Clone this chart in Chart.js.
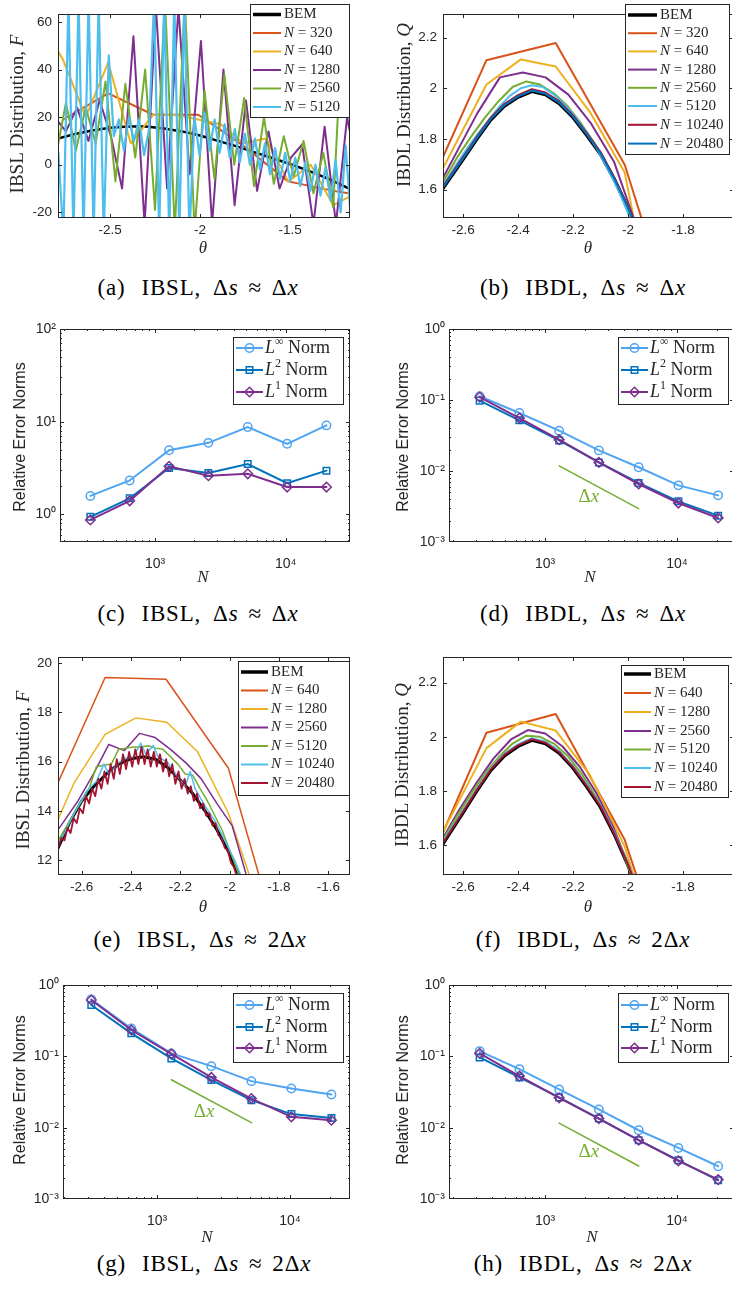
<!DOCTYPE html>
<html>
<head>
<meta charset="utf-8">
<script src="https://cdn.jsdelivr.net/npm/chart.js@4.4.0/dist/chart.umd.min.js"></script>
<style>
  body { margin: 0; background: #fff; overflow: hidden; }
  #fig { position: relative; width: 732px; height: 1291px; overflow: hidden; background: #fff; }
  #fig canvas { position: absolute; }
  .cap { position: absolute; transform: translate(-50%, -50%); white-space: nowrap; letter-spacing: 0.8px;
         font-family: "Liberation Serif", "DejaVu Serif", "Times New Roman", serif; font-size: 23px; color: #000; }
  .cap .g1 { display: inline-block; width: 16px; }
  .cap .g2 { display: inline-block; width: 12px; }
  .cap .g3 { display: inline-block; width: 10px; }
</style>
</head>
<body>
<div id="fig">
  <div class="cap" style="left:198px;top:288px">(a)<span class="g1"></span>IBSL,<span class="g2"></span>Δ<i>s</i><span class="g3"></span>≈<span class="g3"></span>Δ<i>x</i></div>
  <div class="cap" style="left:583px;top:288px">(b)<span class="g1"></span>IBDL,<span class="g2"></span>Δ<i>s</i><span class="g3"></span>≈<span class="g3"></span>Δ<i>x</i></div>
  <div class="cap" style="left:198px;top:614px">(c)<span class="g1"></span>IBSL,<span class="g2"></span>Δ<i>s</i><span class="g3"></span>≈<span class="g3"></span>Δ<i>x</i></div>
  <div class="cap" style="left:583px;top:614px">(d)<span class="g1"></span>IBDL,<span class="g2"></span>Δ<i>s</i><span class="g3"></span>≈<span class="g3"></span>Δ<i>x</i></div>
  <div class="cap" style="left:200px;top:940px">(e)<span class="g1"></span>IBSL,<span class="g2"></span>Δ<i>s</i><span class="g3"></span>≈<span class="g3"></span>2Δ<i>x</i></div>
  <div class="cap" style="left:583px;top:940px">(f)<span class="g1"></span>IBDL,<span class="g2"></span>Δ<i>s</i><span class="g3"></span>≈<span class="g3"></span>2Δ<i>x</i></div>
  <div class="cap" style="left:204px;top:1264px">(g)<span class="g1"></span>IBSL,<span class="g2"></span>Δ<i>s</i><span class="g3"></span>≈<span class="g3"></span>2Δ<i>x</i></div>
  <div class="cap" style="left:583px;top:1264px">(h)<span class="g1"></span>IBDL,<span class="g2"></span>Δ<i>s</i><span class="g3"></span>≈<span class="g3"></span>2Δ<i>x</i></div>
</div>
<script>
// ---- datos ----

// (a) IBSL, ds ~ dx
const aNs = [320, 640, 1280, 2560, 5120];
const aBemTheta = [-2.79, -2.7, -2.6, -2.5, -2.4, -2.3, -2.2, -2.1, -2.0, -1.9, -1.8, -1.7, -1.6, -1.5, -1.4, -1.3, -1.2, -1.16];
const aBemF = [11, 12.8, 14.4, 15.5, 16.1, 16.1, 15.25, 14.0, 12.25, 10.0, 7.8, 5.3, 2.8, 0.3, -2.5, -5.5, -9.0, -10.5];
const a320Theta = [-2.76, -2.51, -2.26, -2.01, -1.76, -1.51, -1.26, -1.01];
const a320F = [19, 30, 21, 21, 8, -7, -11, -14];
const a640Theta = [-2.885, -2.76, -2.635, -2.51, -2.385, -2.26, -2.135, -2.01, -1.885, -1.76, -1.635, -1.51, -1.385, -1.26, -1.135];
const a640F = [60, 44, 20, 43, 9, 21, 21, 19, 17, 9, 11, -7, 0, -17, -12];
const a1280Theta = [-2.808, -2.745, -2.683, -2.62, -2.558, -2.495, -2.433, -2.37, -2.308, -2.245, -2.183, -2.12, -2.058, -1.995, -1.933, -1.87, -1.808, -1.745, -1.683, -1.62, -1.558, -1.495, -1.433, -1.37, -1.308, -1.245, -1.183, -1.12];
const a1280F = [20, 14, 24, 10, 27, 12, -10, 54, -25, 66, -10, 66, -4, 52, -25, 40, -17, 27, -11, 14, -10, 3, 8.5, -25, 16, -25, 20, -5];
const a2560Theta = [-2.80, -2.745, -2.69, -2.635, -2.58, -2.525, -2.47, -2.415, -2.36, -2.305, -2.25, -2.195, -2.14, -2.085, -2.03, -1.975, -1.92, -1.865, -1.81, -1.755, -1.70, -1.645, -1.59, -1.535, -1.48, -1.425, -1.37, -1.315, -1.26, -1.205, -1.15];
const a2560F = [4, 26, 6, 24, 9, 35, -7, 34, 3, 40, -19, 70, -28, 70, -28, 31, -6, 38, 0, 28, -9, 20, -8, 12, -5, 10, -12, 5, -18, 66, 10];
const a5120Theta = [-2.787, -2.759, -2.731, -2.703, -2.675, -2.647, -2.619, -2.591, -2.563, -2.535, -2.507, -2.479, -2.451, -2.423, -2.395, -2.367, -2.339, -2.311, -2.283, -2.255, -2.227, -2.199, -2.171, -2.143, -2.115, -2.087, -2.059, -2.031, -2.003, -1.975, -1.947, -1.919, -1.891, -1.863, -1.835, -1.807, -1.779, -1.751, -1.723, -1.695, -1.667, -1.639, -1.611, -1.583, -1.555, -1.527, -1.499, -1.471, -1.443, -1.415, -1.387, -1.359, -1.331, -1.303, -1.275, -1.247, -1.219, -1.191, -1.163];
const a5120F = [5, -30, 70, -30, 70, -30, 70, -30, 70, -30, 46, 12, 19, 6, 20, 10, 19, 4, 15, 70, -30, 70, -30, 70, -30, 70, -30, 20, 4, 22, 6, 19, 5, 17, 3, 15, 1, 13, 0, 11, -2, 9, -4, 7, -6, 5, -7, 3, -9, 1, -11, 0, -13, -1, -15, 2, -20, 8, -22];

// (b) IBDL, ds ~ dx
const bNs = [320, 640, 1280, 2560, 5120, 10240, 20480];
const bemQTheta = [-2.7, -2.67, -2.6, -2.55, -2.5, -2.45, -2.4, -2.35, -2.3, -2.25, -2.2, -2.15, -2.1, -2.05, -2.0, -1.95];
const bemQ = [1.56, 1.61, 1.72, 1.80, 1.875, 1.93, 1.965, 1.988, 1.975, 1.94, 1.885, 1.815, 1.74, 1.64, 1.525, 1.39];
const b320Theta = [-2.765, -2.515, -2.263, -2.012, -1.761];
const b320Q = [1.506, 2.111, 2.179, 1.698, 0.83];
const b640Theta = [-2.765, -2.64, -2.515, -2.39, -2.263, -2.139, -2.012, -1.888];
const b640Q = [1.49, 1.753, 2.015, 2.114, 2.086, 1.907, 1.667, 0.985];
const b1280Theta = [-2.715, -2.632, -2.549, -2.466, -2.383, -2.30, -2.217, -2.134, -2.051, -1.968, -1.885];
const b1280Q = [1.56, 1.73, 1.90, 2.043, 2.062, 2.043, 1.975, 1.86, 1.71, 1.45, 1.2];
const b2560Theta = [-2.72, -2.67, -2.62, -2.57, -2.52, -2.47, -2.42, -2.37, -2.32, -2.27, -2.22, -2.17, -2.12, -2.07, -2.02, -1.97];
const b2560Q = [1.54, 1.635, 1.73, 1.81, 1.885, 1.95, 2.005, 2.027, 2.015, 1.98, 1.93, 1.86, 1.78, 1.68, 1.565, 1.43];
const b5120Theta = [-2.71, -2.67, -2.63, -2.59, -2.55, -2.51, -2.47, -2.43, -2.39, -2.35, -2.31, -2.27, -2.23, -2.19, -2.15, -2.11, -2.07, -2.03, -1.99, -1.95];
const b5120Q = [1.55, 1.62, 1.69, 1.755, 1.815, 1.87, 1.925, 1.97, 2.0, 2.012, 2.005, 1.975, 1.935, 1.885, 1.825, 1.755, 1.675, 1.585, 1.48, 1.37];
const b10240Q = [1.57, 1.618, 1.728, 1.808, 1.883, 1.938, 1.973, 1.996, 1.983, 1.948, 1.893, 1.823, 1.748, 1.648, 1.533, 1.40];
const b20480Q = [1.563, 1.613, 1.723, 1.803, 1.878, 1.933, 1.968, 1.991, 1.978, 1.943, 1.888, 1.818, 1.743, 1.643, 1.528, 1.393];

// (e) IBSL, ds ~ 2dx
const eNs = [640, 1280, 2560, 5120, 10240, 20480];
const eBemTheta = [-2.72, -2.695, -2.65, -2.6, -2.55, -2.5, -2.45, -2.4, -2.35, -2.3, -2.25, -2.2, -2.15, -2.1, -2.05, -2.0, -1.95, -1.9];
const eBemF = [12.1, 12.5, 13.5, 14.4, 15.0, 15.5, 15.9, 16.12, 16.2, 16.1, 15.75, 15.25, 14.7, 14.0, 13.2, 12.25, 11.1, 9.9];
const e640Theta = [-2.755, -2.505, -2.258, -2.005, -1.755];
const e640F = [13.83, 19.42, 19.35, 15.73, 6.96];
const e1280Theta = [-2.755, -2.63, -2.505, -2.38, -2.255, -2.13, -2.005, -1.88];
const e1280F = [12.3, 15.15, 17.11, 17.78, 17.6, 16.4, 13.9, 10.2];
const e2560Theta = [-2.74, -2.677, -2.615, -2.552, -2.49, -2.427, -2.365, -2.302, -2.24, -2.177, -2.115, -2.052, -1.99, -1.927, -1.865];
const e2560F = [12.6, 13.5, 14.4, 15.5, 16.7, 16.45, 17.15, 16.98, 16.5, 15.95, 15.3, 14.3, 13.4, 11.2, 8.8];
const e5120Theta = [-2.72, -2.695, -2.66, -2.63, -2.6, -2.57, -2.54, -2.51, -2.48, -2.45, -2.42, -2.39, -2.36, -2.33, -2.30, -2.27, -2.24, -2.21, -2.18, -2.15, -2.12, -2.09, -2.06, -2.03, -2.0, -1.97, -1.94, -1.91];
const e5120F = [12.3, 12.8, 13.4, 13.9, 14.4, 14.9, 15.8, 15.85, 15.9, 16.5, 16.55, 16.6, 16.6, 16.65, 16.55, 16.5, 16.2, 15.9, 15.5, 15.45, 14.9, 14.4, 13.8, 13.2, 12.4, 11.6, 10.7, 9.8];
const e10240Theta = [-2.72, -2.695, -2.66, -2.62, -2.58, -2.54, -2.51, -2.49, -2.45, -2.42, -2.39, -2.36, -2.34, -2.31, -2.29, -2.25, -2.22, -2.18, -2.16, -2.14, -2.1, -2.06, -2.02, -1.98, -1.94, -1.9];
const e10240F = [12.2, 12.6, 13.3, 14.1, 14.8, 15.2, 15.9, 15.5, 15.95, 16.15, 16.2, 16.75, 16.3, 16.65, 16.2, 15.95, 15.5, 15.0, 15.6, 14.9, 14.2, 13.6, 12.8, 12.0, 11.0, 9.9];
const e20480Theta = [-2.7075, -2.695, -2.6825, -2.67, -2.6575, -2.645, -2.6325, -2.62, -2.6075, -2.595, -2.5825, -2.57, -2.5575, -2.545, -2.5325, -2.52, -2.5075, -2.495, -2.4825, -2.47, -2.4575, -2.445, -2.4325, -2.42, -2.4075, -2.395, -2.3825, -2.37, -2.3575, -2.345, -2.3325, -2.32, -2.3075, -2.295, -2.2825, -2.27, -2.2575, -2.245, -2.2325, -2.22, -2.2075, -2.195, -2.1825, -2.17, -2.1575, -2.145, -2.1325, -2.12, -2.1075, -2.095, -2.0825, -2.07, -2.0575, -2.045, -2.0325, -2.02, -2.0075, -1.995, -1.9825, -1.97, -1.9575, -1.945];
const e20480F = [12.2, 12.5, 12.9, 12.8, 13.3, 13.1, 13.7, 13.5, 14.1, 13.9, 14.6, 14.3, 14.9, 14.6, 15.3, 14.9, 15.6, 15.1, 15.9, 15.3, 16.1, 15.5, 16.3, 15.7, 16.4, 15.8, 16.5, 15.9, 16.6, 15.9, 16.5, 15.8, 16.4, 15.8, 16.3, 15.6, 16.1, 15.4, 15.9, 15.1, 15.6, 14.9, 15.3, 14.7, 15.0, 14.4, 14.7, 14.1, 14.3, 13.8, 13.9, 13.4, 13.5, 13.0, 12.9, 12.5, 12.4, 11.9, 11.7, 11.3, 11.0, 10.6];

// (f) IBDL, ds ~ 2dx
const f640Theta = [-2.765, -2.515, -2.263, -2.012, -1.761];
const f640Q = [1.432, 2.015, 2.084, 1.619, 0.847];
const f1280Theta = [-2.765, -2.64, -2.515, -2.39, -2.263, -2.139, -2.012, -1.888];
const f1280Q = [1.468, 1.713, 1.958, 2.056, 2.023, 1.859, 1.594, 1.193];
const f2560Theta = [-2.739, -2.676, -2.614, -2.551, -2.489, -2.426, -2.364, -2.301, -2.239, -2.176, -2.114, -2.051, -1.989, -1.926];
const f2560Q = [1.50, 1.62, 1.73, 1.83, 1.92, 1.99, 2.025, 2.012, 1.965, 1.89, 1.79, 1.66, 1.50, 1.31];
const f5120Theta = [-2.72, -2.67, -2.62, -2.57, -2.52, -2.47, -2.42, -2.37, -2.32, -2.27, -2.22, -2.17, -2.12, -2.07, -2.02, -1.97];
const f5120Q = [1.53, 1.625, 1.71, 1.79, 1.865, 1.925, 1.975, 2.004, 2.0, 1.975, 1.93, 1.865, 1.785, 1.69, 1.575, 1.44];
const f10240Q = [1.567, 1.617, 1.727, 1.807, 1.882, 1.937, 1.972, 1.995, 1.982, 1.947, 1.892, 1.822, 1.747, 1.647, 1.532, 1.397];
const f20480Q = [1.563, 1.613, 1.723, 1.803, 1.878, 1.933, 1.968, 1.991, 1.978, 1.943, 1.888, 1.818, 1.743, 1.643, 1.528, 1.393];

// normas de error (c, d, g, h)
const normN = [320, 640, 1280, 2560, 5120, 10240, 20480];
const cLinf = [1.58, 2.32, 4.92, 5.91, 8.75, 5.77, 9.12];
const cL2 = [0.94, 1.49, 3.16, 2.79, 3.49, 2.17, 2.96];
const cL1 = [0.87, 1.40, 3.30, 2.61, 2.74, 1.97, 1.97];
const dLinf = [0.113, 0.0656, 0.037, 0.0195, 0.0113, 0.00628, 0.00454];
const dL2 = [0.098, 0.0517, 0.027, 0.0132, 0.00678, 0.00374, 0.00235];
const dL1 = [0.110, 0.0557, 0.0276, 0.0132, 0.00656, 0.00354, 0.00218];
const gLinf = [0.629, 0.246, 0.110, 0.0729, 0.0449, 0.0354, 0.0292];
const gL2 = [0.524, 0.210, 0.0935, 0.0464, 0.0243, 0.0155, 0.0137];
const gL1 = [0.616, 0.234, 0.108, 0.0506, 0.0256, 0.0142, 0.0127];
const hLinf = [0.1184, 0.0662, 0.0343, 0.018, 0.0092, 0.0052, 0.00288];
const hL2 = [0.0965, 0.0506, 0.0265, 0.0134, 0.00667, 0.00349, 0.00183];
const hL1 = [0.11, 0.0528, 0.0262, 0.0134, 0.0067, 0.00342, 0.00187];
const slopeN = [1280, 5120];
const dSlope = [0.0118, 0.00295];
const gSlope = [0.047, 0.01175];
const hSlope = [0.0116, 0.0029];

// ---- estilo ----
const INK = '#262626';
const SERIF = '"Liberation Serif", "DejaVu Serif", "Times New Roman", serif';
const SANS = '"Liberation Sans", Arial, Helvetica, sans-serif';
const ORANGE = '#D95319', YELLOW = '#EDB120', PURPLE = '#7E2F8E', GREEN = '#77AC30',
      CYAN = '#4DBEEE', DARKRED = '#A2142F', BLUE = '#0072BD', LINF = '#4FA4F2';
const SUP = { '-': '⁻', '0': '⁰', '1': '¹', '2': '²', '3': '³', '4': '⁴' };

const rm = (t, s) => ({ t, f: `${s}px ${SERIF}` });
const it = (t, s) => ({ t, f: `italic ${s}px ${SERIF}` });
const sf = (t, s) => ({ t, f: `${s}px ${SANS}` });
const up = (t, s) => ({ t, f: `${Math.round(s * 0.68)}px ${SERIF}`, dy: -s * 0.36 });
const nLabel = (n, s) => [it('N', s), rm(' = ' + n, s)];

function drawRich(ctx, segs, x, y, align, color) {
    let w = 0;
    segs.forEach(s => { ctx.font = s.f; w += ctx.measureText(s.t).width; });
    let cx = align === 'center' ? x - w / 2 : x;
    ctx.fillStyle = color || INK;
    ctx.textAlign = 'left';
    ctx.textBaseline = 'middle';
    segs.forEach(s => {
        ctx.font = s.f;
        ctx.fillText(s.t, cx, y + (s.dy || 0));
        cx += ctx.measureText(s.t).width;
    });
}

function drawMarker(ctx, style, x, y, r) {
    ctx.beginPath();
    if (style === 'circle') {
        ctx.arc(x, y, r, 0, Math.PI * 2);
    } else if (style === 'rect') {
        const h = r * Math.SQRT1_2;
        ctx.rect(x - h, y - h, 2 * h, 2 * h);
    } else {
        ctx.moveTo(x - r, y); ctx.lineTo(x, y - r); ctx.lineTo(x + r, y); ctx.lineTo(x, y + r); ctx.closePath();
    }
    ctx.stroke();
}

// marcas hacia adentro, como en MATLAB (con menores en ejes log)
function tickList(scale) {
    const out = scale.ticks.map(t => [t.value, 4]);
    if (scale.type === 'logarithmic') {
        for (let e = Math.floor(Math.log10(scale.min)); e <= Math.ceil(Math.log10(scale.max)); e++) {
            for (let k = 2; k <= 9; k++) {
                const v = k * Math.pow(10, e);
                if (v > scale.min && v < scale.max) out.push([v, 2]);
            }
        }
    }
    return out;
}

function framePlugin(p, L, T) {
    return {
        id: 'frame',
        afterDraw(chart) {
            const { ctx, chartArea: a } = chart;
            const xs = chart.scales.x, ys = chart.scales.y;
            ctx.save();
            ctx.strokeStyle = INK;
            ctx.lineWidth = 1;
            ctx.beginPath();
            tickList(xs).forEach(([v, len]) => {
                const px = Math.round(xs.getPixelForValue(v)) + 0.5;
                if (px < a.left || px > a.right) return;
                ctx.moveTo(px, a.bottom); ctx.lineTo(px, a.bottom - len);
                ctx.moveTo(px, a.top); ctx.lineTo(px, a.top + len);
            });
            tickList(ys).forEach(([v, len]) => {
                const py = Math.round(ys.getPixelForValue(v)) + 0.5;
                if (py < a.top || py > a.bottom) return;
                ctx.moveTo(a.left, py); ctx.lineTo(a.left + len, py);
                ctx.moveTo(a.right, py); ctx.lineTo(a.right - len, py);
            });
            ctx.stroke();
            ctx.strokeRect(Math.round(a.left) + 0.5, Math.round(a.top) + 0.5,
                           Math.round(a.right - a.left) - 1, Math.round(a.bottom - a.top) - 1);

            // anotación de pendiente
            (p.notes || []).forEach(n => {
                drawRich(ctx, n.segs, xs.getPixelForValue(n.x), ys.getPixelForValue(n.y), 'center', n.color);
            });

            // desde aquí coordenadas de página
            ctx.translate(-L, -T);
            if (p.yTitle) {
                ctx.save();
                ctx.translate(p.yTitle.x, p.yTitle.y);
                ctx.rotate(-Math.PI / 2);
                drawRich(ctx, p.yTitle.segs, 0, 0, 'center');
                ctx.restore();
            }
            if (p.xTitle) drawRich(ctx, p.xTitle.segs, p.xTitle.x, p.xTitle.y, 'center');

            const g = p.legend;
            if (g) {
                ctx.fillStyle = '#fff';
                ctx.fillRect(g.box[0], g.box[1], g.box[2] - g.box[0], g.box[3] - g.box[1]);
                ctx.strokeStyle = INK;
                ctx.lineWidth = 1;
                ctx.strokeRect(g.box[0] + 0.5, g.box[1] + 0.5, g.box[2] - g.box[0], g.box[3] - g.box[1]);
                g.items.forEach((item, i) => {
                    const y = g.rows[i];
                    ctx.strokeStyle = item.color;
                    ctx.lineWidth = item.width;
                    ctx.beginPath(); ctx.moveTo(g.lx[0], y); ctx.lineTo(g.lx[1], y); ctx.stroke();
                    if (item.marker) {
                        ctx.lineWidth = 1.5;
                        drawMarker(ctx, item.marker, (g.lx[0] + g.lx[1]) / 2, y, item.radius);
                    }
                    drawRich(ctx, item.segs, g.tx, y, 'left');
                });
            }
            ctx.restore();
        }
    };
}

function linAxis(min, max, step, pad) {
    return {
        type: 'linear', min, max,
        grid: { display: false, drawTicks: false },
        border: { display: false },
        ticks: {
            stepSize: step, includeBounds: false, autoSkip: false, maxRotation: 0,
            color: INK, font: { family: SANS, size: 13.5 }, padding: pad,
            callback: v => String(+v.toFixed(2))
        }
    };
}

function logAxis(min, max, pad) {
    return {
        type: 'logarithmic', min, max,
        grid: { display: false, drawTicks: false },
        border: { display: false },
        afterBuildTicks: s => {
            s.ticks = s.ticks.filter(t => Math.abs(Math.log10(t.value) - Math.round(Math.log10(t.value))) < 1e-9);
        },
        ticks: {
            autoSkip: false, maxRotation: 0,
            color: INK, font: { family: SANS, size: 14 }, padding: pad,
            callback: v => '10' + String(Math.round(Math.log10(v))).split('').map(c => SUP[c]).join('')
        }
    };
}

function series(xs, ys, color, width, extra) {
    return Object.assign({
        data: xs.map((x, i) => ({ x, y: ys[i] })),
        borderColor: color, borderWidth: width, pointRadius: 0, fill: false, tension: 0,
        borderJoinStyle: 'round', borderCapStyle: 'round', clip: 0
    }, extra || {});
}

function normSet(ys, color, marker, radius) {
    return series(normN, ys, color, 2, {
        pointStyle: marker, pointRadius: radius, pointBorderWidth: 1.5,
        pointBorderColor: color, pointBackgroundColor: 'rgba(255,255,255,0)', borderJoinStyle: 'miter'
    });
}

function makePanel(p) {
    const [L, T, W, H] = p.canvas, [x0, y0, x1, y1] = p.area;
    const cv = document.createElement('canvas');
    cv.width = W; cv.height = H;
    cv.style.left = L + 'px'; cv.style.top = T + 'px';
    cv.style.width = W + 'px'; cv.style.height = H + 'px';
    document.getElementById('fig').appendChild(cv);
    p.x.afterFit = s => { s.height = T + H - y1; };
    p.y.afterFit = s => { s.width = x0 - L; };
    p.datasets.forEach((d, i) => { d.order = p.datasets.length - i; });
    return new Chart(cv, {
        type: 'line',
        data: { datasets: p.datasets },
        options: {
            responsive: false, animation: false, devicePixelRatio: 1, events: [],
            layout: { autoPadding: false, padding: { left: 0, top: y0 - T, right: L + W - x1, bottom: 0 } },
            plugins: { legend: { display: false }, tooltip: { enabled: false } },
            scales: { x: p.x, y: p.y }
        },
        plugins: [framePlugin(p, L, T)]
    });
}

function distLegend(box, rows, lx, tx, ns, colors) {
    const items = [{ segs: [rm('BEM', 15)], color: '#000', width: 3.5 }];
    ns.forEach((n, i) => items.push({ segs: nLabel(n, 15), color: colors[i], width: 2 }));
    return { box, rows, lx, tx, items };
}

function normLegend(box, rows, lx, tx) {
    return {
        box, rows, lx, tx, items: [
            { segs: [it('L', 18), up('∞', 18), rm(' Norm', 18)], color: LINF, width: 2, marker: 'circle', radius: 4.2 },
            { segs: [it('L', 18), up('2', 18), rm(' Norm', 18)], color: BLUE, width: 2, marker: 'rect', radius: 4.6 },
            { segs: [it('L', 18), up('1', 18), rm(' Norm', 18)], color: PURPLE, width: 2, marker: 'rectRot', radius: 4.8 }
        ]
    };
}

const thetaTitle = (x, y) => ({ segs: [it('θ', 17)], x, y });
const nTitle = (x, y) => ({ segs: [it('N', 17)], x, y });
const errTitle = (x, y) => ({ segs: [sf('Relative Error Norms', 16)], x, y });
const dxNote = (x, y) => ({ segs: [rm('Δ', 19), it('x', 19)], x, y, color: GREEN });

document.addEventListener('DOMContentLoaded', function () {
    // (a)
    makePanel({
        canvas: [0, 0, 366, 262], area: [58, 1, 350, 218],
        x: linAxis(-2.789, -1.167, 0.5, 4), y: linAxis(-22.4, 63.3, 20, 6),
        datasets: [
            series(aBemTheta, aBemF, '#000', 2.5),
            series(a320Theta, a320F, ORANGE, 2),
            series(a640Theta, a640F, YELLOW, 2),
            series(a1280Theta, a1280F, PURPLE, 2),
            series(a2560Theta, a2560F, GREEN, 2),
            series(a5120Theta, a5120F, CYAN, 2.2)
        ],
        yTitle: { segs: [rm('IBSL Distribution, ', 19), it('F', 19)], x: 18, y: 114 },
        xTitle: thetaTitle(203, 249),
        legend: distLegend([250, 4, 349, 117], [14.5, 33, 51.5, 70, 88.5, 107], [253, 281], 284, aNs,
                           [ORANGE, YELLOW, PURPLE, GREEN, CYAN])
    });

    // (b)
    makePanel({
        canvas: [366, 0, 370, 262], area: [443, 1, 734, 218],
        x: linAxis(-2.673, -1.6145, 0.2, 4), y: linAxis(1.4876, 2.293, 0.2, 6),
        datasets: [
            series(bemQTheta, bemQ, '#000', 3.5),
            series(b320Theta, b320Q, ORANGE, 2),
            series(b640Theta, b640Q, YELLOW, 2),
            series(b1280Theta, b1280Q, PURPLE, 2),
            series(b2560Theta, b2560Q, GREEN, 2),
            series(b5120Theta, b5120Q, CYAN, 2),
            series(bemQTheta, b10240Q, DARKRED, 2),
            series(bemQTheta, b20480Q, BLUE, 2)
        ],
        yTitle: { segs: [rm('IBDL Distribution, ', 19), it('Q', 19)], x: 405, y: 105 },
        xTitle: thetaTitle(588, 249),
        legend: distLegend([625, 4, 729, 154], [15, 33.2, 51.4, 69.6, 87.8, 106, 124.8, 143.6], [628, 657], 660, bNs,
                           [ORANGE, YELLOW, PURPLE, GREEN, CYAN, DARKRED, BLUE])
    });

    // (c)
    makePanel({
        canvas: [0, 310, 366, 280], area: [60, 329, 350, 542],
        x: logAxis(187.5, 31000, 14), y: logAxis(0.503, 100, 4),
        datasets: [normSet(cLinf, LINF, 'circle', 4.2), normSet(cL2, BLUE, 'rect', 4.6), normSet(cL1, PURPLE, 'rectRot', 4.8)],
        yTitle: errTitle(21, 437),
        xTitle: nTitle(203, 578),
        legend: normLegend([233, 337, 343, 404], [348, 370, 392], [236, 263], 265)
    });

    // (d)
    makePanel({
        canvas: [366, 310, 370, 280], area: [449, 329, 734, 542],
        x: logAxis(187.5, 27000, 14), y: logAxis(0.001, 1, 4),
        datasets: [normSet(dLinf, LINF, 'circle', 4.2), normSet(dL2, BLUE, 'rect', 4.6), normSet(dL1, PURPLE, 'rectRot', 4.8),
                   series(slopeN, dSlope, GREEN, 1.5)],
        notes: [dxNote(2150, 0.0043)],
        yTitle: errTitle(404, 437),
        xTitle: nTitle(590, 578),
        legend: normLegend([618, 337, 728, 404], [348, 370, 392], [621, 648], 650)
    });

    // (e)
    makePanel({
        canvas: [0, 640, 366, 275], area: [58, 657, 350, 875],
        x: linAxis(-2.696, -1.512, 0.2, 4), y: linAxis(11.39, 20.256, 2, 6),
        datasets: [
            series(eBemTheta, eBemF, '#000', 3),
            series(e640Theta, e640F, ORANGE, 1.5),
            series(e1280Theta, e1280F, YELLOW, 1.5),
            series(e2560Theta, e2560F, PURPLE, 1.5),
            series(e5120Theta, e5120F, GREEN, 1.5),
            series(e10240Theta, e10240F, CYAN, 1.5),
            series(e20480Theta, e20480F, DARKRED, 1.8)
        ],
        yTitle: { segs: [rm('IBSL Distribution, ', 19), it('F', 19)], x: 24, y: 770 },
        xTitle: thetaTitle(203, 908),
        legend: distLegend([238, 661, 349, 795], [672, 690.5, 709, 727.5, 746, 764.5, 783], [241, 268], 271, eNs,
                           [ORANGE, YELLOW, PURPLE, GREEN, CYAN, DARKRED])
    });

    // (f)
    makePanel({
        canvas: [366, 640, 370, 275], area: [443, 657, 734, 875],
        x: linAxis(-2.673, -1.6145, 0.2, 4), y: linAxis(1.489, 2.295, 0.2, 6),
        datasets: [
            series(bemQTheta, bemQ, '#000', 3.5),
            series(f640Theta, f640Q, ORANGE, 2),
            series(f1280Theta, f1280Q, YELLOW, 2),
            series(f2560Theta, f2560Q, PURPLE, 2),
            series(f5120Theta, f5120Q, GREEN, 2),
            series(bemQTheta, f10240Q, CYAN, 2),
            series(bemQTheta, f20480Q, DARKRED, 2)
        ],
        yTitle: { segs: [rm('IBDL Distribution, ', 19), it('Q', 19)], x: 403, y: 765 },
        xTitle: thetaTitle(588, 908),
        legend: distLegend([621, 665, 728, 797], [674, 693, 712, 731, 749.5, 768, 787], [624, 651], 654, eNs,
                           [ORANGE, YELLOW, PURPLE, GREEN, CYAN, DARKRED])
    });

    // (g)
    makePanel({
        canvas: [0, 965, 366, 285], area: [63, 985, 350, 1199],
        x: logAxis(196, 28250, 14), y: logAxis(0.001, 1, 4),
        datasets: [normSet(gLinf, LINF, 'circle', 4.2), normSet(gL2, BLUE, 'rect', 4.6), normSet(gL1, PURPLE, 'rectRot', 4.8),
                   series(slopeN, gSlope, GREEN, 1.5)],
        notes: [dxNote(2254, 0.01655)],
        yTitle: errTitle(21, 1090),
        xTitle: nTitle(207, 1238),
        legend: normLegend([233, 993, 343, 1062], [1005, 1027, 1048], [236, 263], 265)
    });

    // (h)
    makePanel({
        canvas: [366, 965, 370, 285], area: [449, 985, 734, 1199],
        x: logAxis(187.5, 27000, 14), y: logAxis(0.001, 1, 4),
        datasets: [normSet(hLinf, LINF, 'circle', 4.2), normSet(hL2, BLUE, 'rect', 4.6), normSet(hL1, PURPLE, 'rectRot', 4.8),
                   series(slopeN, hSlope, GREEN, 1.5)],
        notes: [dxNote(2150, 0.00455)],
        yTitle: errTitle(404, 1090),
        xTitle: nTitle(592, 1238),
        legend: normLegend([618, 993, 728, 1062], [1005, 1027, 1048], [621, 648], 650)
    });
});
</script>
</body>
</html>
